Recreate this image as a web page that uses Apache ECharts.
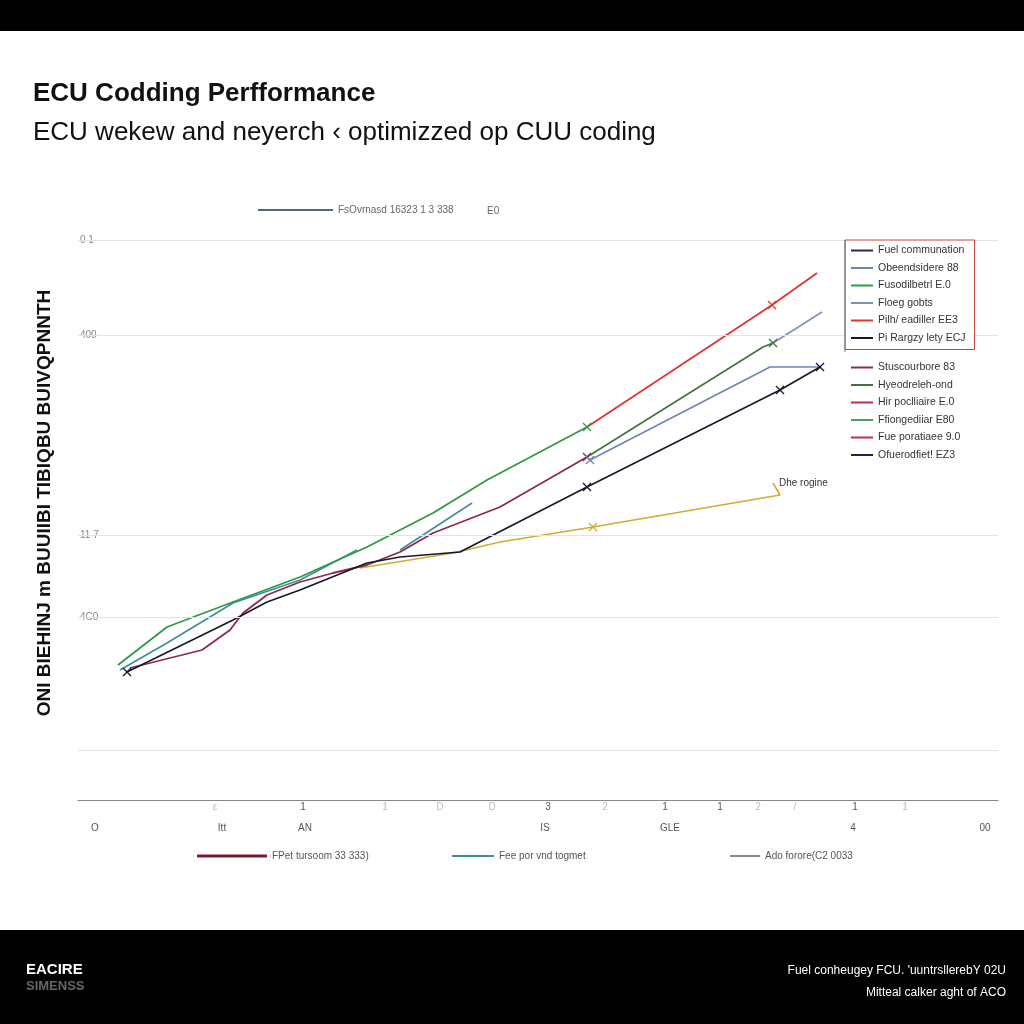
<!DOCTYPE html>
<html>
<head>
<meta charset="utf-8">
<script src="https://cdn.jsdelivr.net/npm/echarts@6/dist/echarts.min.js"></script>
<style>html,body{margin:0;padding:0;background:#fff}#c{width:1024px;height:1024px}</style>
</head>
<body>
<div id="c"></div>
<script>
// ---- data (x in axis units 0..92, y in axis units 0..56) ----
const yTickValues = [56, 46.5, 26.5, 18.3];
const yTickLabels = ['0 1', '400', '11 7', '4C0'];
const gridRowValues = [56, 46.5, 26.5, 18.3, 5.0];

const xTopValues = [13.7, 22.5, 30.7, 36.2, 41.4, 47.0, 52.7, 58.7, 64.2, 68.0, 71.7, 77.7, 82.7];
const xTopLabels = ['ε', '1', '1', 'D', 'D', '3', '2', '1', '1', '2', '/', '1', '1'];
const xTopDark   = [false, true, false, false, false, true, false, true, true, false, false, true, false];
const xBotValues = [1.7, 14.4, 22.7, 46.7, 59.2, 77.5, 90.7];
const xBotLabels = ['O', 'Itt', 'AN', 'IS', 'GLE', '4', '00'];

const greenLine = [[4.0,13.5],[8.9,17.3],[15.5,19.8],[22.2,22.3],[28.9,25.3],[35.5,28.7],[40.9,32.0],[50.9,37.3]];
const redLine = [[50.9,37.3],[69.4,49.5],[73.9,52.7]];
const tealLine = [[4.2,13.0],[8.9,15.7],[15.5,19.7],[22.2,22.0],[27.9,25.0],['-','-'],[32.2,25.0],[39.4,29.7]];
const maroonLine = [[5.2,13.2],[12.4,15.0],[15.2,17.0],[16.5,18.7],[18.9,20.5],[22.2,21.8],[25.5,22.7],[28.9,23.5],[32.2,24.8],[35.5,26.7],[42.2,29.3],[50.9,34.3]];
const darkGreenLine = [[50.9,34.3],[68.5,45.3],[69.5,45.7]];
const grayBlueLine = [[69.5,45.7],[74.4,48.8]];
const steelLine = [[51.2,34.0],[69.2,43.3],[74.2,43.3]];
const blackLine = [[4.9,12.8],[15.5,18.0],[18.9,19.8],[22.2,21.0],[28.9,23.7],[32.2,24.3],[38.2,24.8],[50.9,31.3],[70.2,41.0],[74.2,43.3]];
const goldLine = [[28.2,23.2],[37.5,24.7],[42.2,25.8],[51.5,27.3],[70.2,30.5],[69.5,31.7]];

// indices of points that carry a marker glyph
const greenMarks = [7], redMarks = [1], maroonMarks = [11], steelMarks = [0], blackMarks = [0, 7, 8, 9], goldMarks = [3], darkGreenMarks = [2], tealMarks = [];

const legendRightTop = ['Fuel communation', 'Obeendsidere 88', 'Fusodilbetrl E.0', 'Floeg gobts', 'Pilh/ eadiller EE3', 'Pi Rargzy lety ECJ'];
const legendRightBottom = ['Stuscourbore 83', 'Hyeodreleh-ond', 'Hir poclliaire E.0', 'Ffiongediiar E80', 'Fue poratiaee 9.0', 'Ofuerodfiet! EZ3'];

const MARK = 'path://M0,1L1,0L5,4L9,0L10,1L6,5L10,9L9,10L5,6L1,10L0,9L4,5Z';

function withMarks(arr, marks) {
  return arr.map((p, i) => marks.indexOf(i) >= 0 ? { value: p, symbol: MARK, symbolSize: 9 } : p);
}
function lineSeries(name, color, data, marks, width, extra) {
  return Object.assign({
    name: name, type: 'line', data: withMarks(data, marks || []),
    symbol: 'none', showSymbol: true, connectNulls: false,
    lineStyle: { color: color, width: width || 1.6 },
    itemStyle: { color: color },
    emphasis: { disabled: true }
  }, extra || {});
}
function dummy(name, color) {
  return { name: name, type: 'line', data: [], symbol: 'none', lineStyle: { color: color, width: 1.6 }, itemStyle: { color: color } };
}

const chart = echarts.init(document.getElementById('c'), null, { renderer: 'canvas' });
const FONT = 'Liberation Sans';

const option = {
  animation: false,
  backgroundColor: '#ffffff',
  textStyle: { fontFamily: FONT },
  title: {
    text: 'ECU Codding Perfformance',
    subtext: 'ECU wekew and neyerch ‹ optimizzed op CUU coding',
    left: 28, top: 76, itemGap: 13,
    textStyle: { fontFamily: FONT, fontSize: 26, fontWeight: 'bold', color: '#111' },
    subtextStyle: { fontFamily: FONT, fontSize: 26, color: '#111' }
  },
  grid: { left: 78, right: 26, top: 240, bottom: 224, containLabel: false },
  xAxis: [
    {
      type: 'value', min: 0, max: 92, position: 'bottom',
      axisLine: { show: true, lineStyle: { color: '#888', width: 1 } },
      axisTick: { show: false }, splitLine: { show: false },
      axisLabel: {
        customValues: xTopValues, margin: 2, fontSize: 10,
        formatter: function (v) { const i = xTopValues.indexOf(v); return i < 0 ? '' : (xTopDark[i] ? '{d|' + xTopLabels[i] + '}' : '{l|' + xTopLabels[i] + '}'); },
        rich: { d: { color: '#555', fontSize: 10 }, l: { color: '#bbb', fontSize: 10 } }
      }
    },
    {
      type: 'value', min: 0, max: 92, position: 'bottom', gridIndex: 0,
      axisLine: { show: false }, axisTick: { show: false }, splitLine: { show: false },
      axisLabel: {
        customValues: xBotValues, margin: 23, fontSize: 10, color: '#555',
        formatter: function (v) { const i = xBotValues.indexOf(v); return i < 0 ? '' : xBotLabels[i]; }
      }
    }
  ],
  yAxis: {
    type: 'value', min: 0, max: 56,
    axisLine: { show: false }, axisTick: { show: false }, splitLine: { show: false },
    axisLabel: {
      inside: true, margin: 2, fontSize: 10, color: '#888', verticalAlign: 'middle',
      customValues: yTickValues,
      formatter: function (v) { const i = yTickValues.indexOf(v); return i < 0 ? '' : yTickLabels[i]; }
    }
  },
  legend: [
    {
      data: legendRightTop, orient: 'vertical', left: 845, top: 240, z: 20,
      icon: 'rect', itemWidth: 22, itemHeight: 2, itemGap: 6.5,
      padding: [5, 9, 6, 6], borderColor: '#c8443a', borderWidth: 1, backgroundColor: '#ffffff',
      textStyle: { fontSize: 10.5, color: '#333', fontFamily: FONT }, selectedMode: false
    },
    {
      data: legendRightBottom, orient: 'vertical', left: 845, top: 358, z: 20,
      icon: 'rect', itemWidth: 22, itemHeight: 2, itemGap: 6.5,
      padding: [4, 6, 4, 6], backgroundColor: '#ffffff',
      textStyle: { fontSize: 10.5, color: '#333', fontFamily: FONT }, selectedMode: false
    },
    {
      data: ['FsOvrnasd 16323 1 3 338'], left: 258, top: 205, icon: 'rect', itemWidth: 75, itemHeight: 2,
      textStyle: { fontSize: 10, color: '#666', fontFamily: FONT }, selectedMode: false, padding: 0
    },
    {
      data: ['FPet tursoom 33 333)'], left: 197, top: 851, icon: 'rect', itemWidth: 70, itemHeight: 3,
      textStyle: { fontSize: 10, color: '#555', fontFamily: FONT }, selectedMode: false, padding: 0
    },
    {
      data: ['Fee por vnd togmet'], left: 452, top: 851, icon: 'rect', itemWidth: 42, itemHeight: 2,
      textStyle: { fontSize: 10, color: '#555', fontFamily: FONT }, selectedMode: false, padding: 0
    },
    {
      data: ['Ado forore(C2 0033'], left: 730, top: 851, icon: 'rect', itemWidth: 30, itemHeight: 2,
      textStyle: { fontSize: 10, color: '#555', fontFamily: FONT }, selectedMode: false, padding: 0
    }
  ],
  series: [
    {
      name: 'gridrows', type: 'line', data: [], silent: true, z: 1,
      markLine: {
        silent: true, symbol: ['none', 'none'], label: { show: false },
        lineStyle: { color: '#e3e3e3', type: 'solid', width: 1 },
        data: gridRowValues.map(v => ({ yAxis: v }))
      }
    },
    dummy('Fuel communation', '#1c2a5a'),
    dummy('Hir poclliaire E.0', '#b8304a'),
    dummy('Ffiongediiar E80', '#4aa05a'),
    dummy('Fue poratiaee 9.0', '#c03050'),
    dummy('Ofuerodfiet! EZ3', '#1a2458'),
    dummy('FPet tursoom 33 333)', '#7a1a30'),
    dummy('Ado forore(C2 0033', '#8a8a8a'),
    dummy('FsOvrnasd 16323 1 3 338', '#56648a'),
    lineSeries('Dhe rogine', '#d4aa30', goldLine, goldMarks, 1.6, {
      endLabel: { show: true, formatter: '{a}', fontSize: 10, color: '#333', distance: 6 }
    }),
    lineSeries('Fee por vnd togmet', '#3c8ea0', tealLine, tealMarks, 1.6),
    lineSeries('Stuscourbore 83', '#8c2a4c', maroonLine, maroonMarks, 1.8),
    lineSeries('Hyeodreleh-ond', '#3f7438', darkGreenLine, darkGreenMarks, 1.6),
    lineSeries('Floeg gobts', '#7d93b3', grayBlueLine, [], 1.6),
    lineSeries('Obeendsidere 88', '#6a86b6', steelLine, steelMarks, 1.6),
    lineSeries('Fusodilbetrl E.0', '#2e9a44', greenLine, greenMarks, 1.8),
    lineSeries('Pilh/ eadiller EE3', '#e0352a', redLine, redMarks, 1.8),
    lineSeries('Pi Rargzy lety ECJ', '#14182a', blackLine, blackMarks, 1.6)
  ],
  graphic: [
    { type: 'rect', left: 0, top: 0, shape: { width: 1024, height: 31 }, style: { fill: '#000' }, silent: true },
    { type: 'rect', left: 0, top: 930, shape: { width: 1024, height: 94 }, style: { fill: '#000' }, silent: true },
    { type: 'line', z: 30, shape: { x1: 845, y1: 240, x2: 845, y2: 352 }, style: { stroke: '#3c8ea0', lineWidth: 1 }, silent: true },
    { type: 'text', left: 487, top: 206, style: { text: 'E0', fontSize: 10, fill: '#666', fontFamily: FONT } },
    { type: 'text', x: 45, y: 503, rotation: Math.PI / 2,
      style: { text: 'ONI BIEHINJ m BUUIIBI TIBIQBU BUIVQPNNTH', fontSize: 19, fontWeight: 'bold', fill: '#111', fontFamily: FONT, align: 'center', verticalAlign: 'middle' } },
    { type: 'text', left: 26, top: 962, style: { text: 'EACIRE', fontSize: 15, fontWeight: 'bold', fill: '#fff', fontFamily: FONT } },
    { type: 'text', left: 26, top: 980, style: { text: 'SIMENSS', fontSize: 13, fontWeight: 'bold', fill: '#666', fontFamily: FONT } },
    { type: 'text', right: 18, top: 965, style: { text: "Fuel conheugey FCU. 'uuntrsllerebY 02U", fontSize: 12, fill: '#fff', fontFamily: FONT } },
    { type: 'text', right: 18, top: 987, style: { text: 'Mitteal calker aght of ACO', fontSize: 12, fill: '#fff', fontFamily: FONT } }
  ]
};
chart.setOption(option);
</script>
</body>
</html>
